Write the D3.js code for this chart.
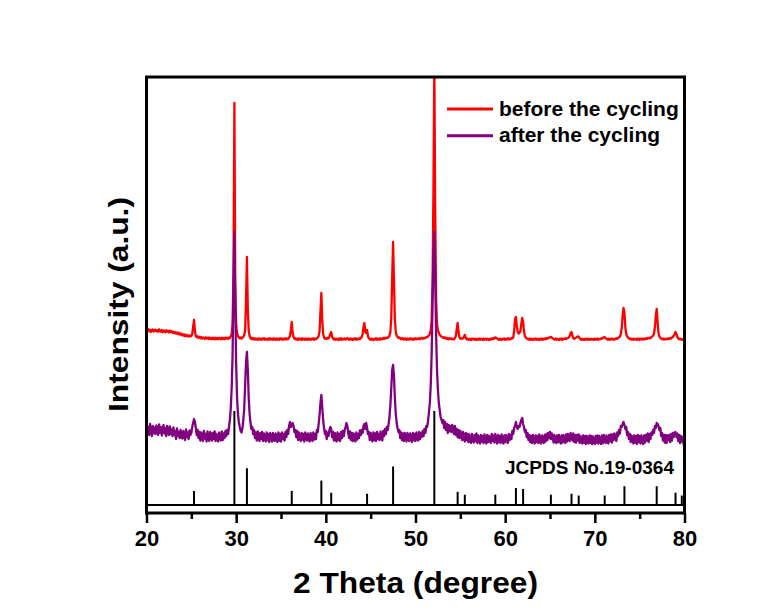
<!DOCTYPE html>
<html>
<head>
<meta charset="utf-8">
<script src="https://cdn.jsdelivr.net/npm/d3@7"></script>
<style>
  body { margin: 0; background: #ffffff; }
  text { font-family: "Liberation Sans", Arial, Helvetica, sans-serif; font-weight: bold; fill: #000; }
</style>
</head>
<body>
<svg id="chart" width="781" height="610"></svg>
<script>
// Scan settings: 2θ from 20° in steps of 0.1°; each row holds one degree (x.0 … x.9)
const scanStart = 20;
const scanStep = 0.1;

// Intensity (a.u.) before cycling
const beforeRows = [
  [120,105,128,110,122,100,118,126,104,115], // 20
  [124,108,118,102,126,112,104,120,98,116],  // 21
  [110,96,118,104,112,95,114,100,108,92],    // 22
  [104,90,98,84,96,80,92,74,86,70],          // 23
  [80,64,76,58,72,60,68,54,66,56],           // 24
  [60,80,150,220,110,60,48,58,42,52],        // 25
  [38,50,34,46,40,30,48,36,44,30],           // 26
  [46,32,40,28,44,34,26,42,30,40],           // 27
  [28,42,34,26,44,30,40,28,46,34],           // 28
  [40,30,46,40,55,80,180,700,2390,600],      // 29
  [180,90,60,48,36,46,34,44,50,70],          // 30
  [120,420,850,320,110,60,40,30,42,26],      // 31
  [38,24,36,28,20,38,26,34,22,36],           // 32
  [26,38,22,34,28,20,36,26,38,24],           // 33
  [34,22,38,28,20,36,24,34,22,38],           // 34
  [26,36,22,34,28,38,24,36,30,44],           // 35
  [60,120,200,90,48,32,38,24,34,22],         // 36
  [36,26,34,20,38,28,22,36,24,34],           // 37
  [22,36,28,20,34,26,38,22,34,28],           // 38
  [36,44,60,110,300,490,220,80,46,32],       // 39
  [38,30,42,36,55,80,100,55,34,24],          // 40
  [36,22,34,26,20,36,24,38,22,32],           // 41
  [26,36,24,32,40,30,22,36,24,34],           // 42
  [20,34,26,38,22,34,28,36,30,42],           // 43
  [48,80,150,190,100,90,120,60,36,28],       // 44
  [22,36,26,20,34,24,38,22,34,26],           // 45
  [38,24,34,28,40,30,42,36,44,40],           // 46
  [50,62,100,250,650,1000,600,220,100,64],   // 47
  [52,40,46,34,28,40,30,24,38,28],           // 48
  [22,36,28,24,38,26,32,22,36,28],           // 49
  [38,26,34,30,40,28,36,42,32,40],           // 50
  [36,46,44,52,56,66,80,120,220,600],        // 51
  [1500,2800,1300,420,180,120,90,72,62,54],  // 52
  [50,42,48,36,44,32,40,28,38,30],           // 53
  [36,26,34,28,40,60,130,190,100,48],        // 54
  [34,30,38,36,52,70,44,28,34,22],           // 55
  [34,24,20,36,26,32,22,34,20,30],           // 56
  [24,36,22,34,26,20,36,24,32,22],           // 57
  [34,26,20,32,24,36,28,40,34,46],           // 58
  [42,36,28,22,34,24,20,34,26,36],           // 59
  [22,34,26,38,24,34,28,40,36,46],           // 60
  [110,230,250,160,100,85,92,110,180,240],   // 61
  [200,110,60,44,36,30,24,36,22,34],         // 62
  [24,20,34,26,36,22,32,26,20,34],           // 63
  [24,36,22,32,26,38,30,40,36,44],           // 64
  [48,52,44,36,30,24,36,22,34,26],           // 65
  [20,34,24,36,22,32,28,38,30,36],           // 66
  [40,46,62,90,100,60,38,30,38,44],          // 67
  [50,56,54,38,28,22,34,24,20,32],           // 68
  [24,34,20,32,26,22,34,24,30,20],           // 69
  [34,26,22,36,24,32,28,38,34,42],           // 70
  [46,48,40,30,24,34,22,32,24,36],           // 71
  [26,22,34,28,38,32,40,46,56,80],           // 72
  [140,260,340,300,150,80,56,44,36,28],      // 73
  [36,24,32,22,34,28,20,34,24,36],           // 74
  [22,32,26,36,24,34,28,38,30,40],           // 75
  [36,44,38,48,56,62,80,150,260,330],        // 76
  [200,90,56,42,34,28,36,24,32,26],          // 77
  [34,28,36,30,40,34,46,50,62,80],           // 78
  [100,80,52,36,28,34,24,30,22,28],          // 79
  [20]                                       // 80
];

// Intensity (a.u.) after cycling
const afterRows = [
  [250,170,230,150,260,190,140,240,170,225], // 20
  [160,245,185,150,255,175,230,145,210,250], // 21
  [165,220,140,240,180,150,235,160,205,140], // 22
  [225,150,190,110,215,140,180,120,200,135], // 23
  [115,190,150,100,205,130,175,110,195,150], // 24
  [170,230,270,310,280,220,150,200,120,180], // 25
  [95,175,130,90,190,115,160,85,185,125],    // 26
  [90,180,140,95,170,110,185,90,160,120],    // 27
  [85,175,130,95,185,100,165,120,190,140],   // 28
  [200,160,230,300,420,620,950,1650,2180,1450], // 29
  [850,520,360,280,230,190,175,220,300,420], // 30
  [650,880,980,800,520,360,270,210,230,160], // 31
  [200,120,175,95,185,130,90,170,110,180],   // 32
  [90,165,120,85,175,100,160,80,170,130],    // 33
  [85,170,110,90,165,125,80,175,95,160],     // 34
  [85,175,110,160,95,180,130,200,160,240],   // 35
  [280,230,250,270,240,180,200,130,190,100], // 36
  [175,120,90,170,105,160,85,175,130,95],    // 37
  [165,110,85,170,120,90,175,105,160,110],   // 38
  [200,180,260,350,470,550,430,300,220,160], // 39
  [190,110,175,140,200,230,210,130,180,95],  // 40
  [170,110,85,175,100,160,90,180,120,190],   // 41
  [140,200,230,270,240,170,120,185,100,170], // 42
  [90,165,115,85,175,105,160,120,195,150],   // 43
  [200,170,240,260,210,270,220,160,180,100], // 44
  [170,115,85,175,100,165,90,180,110,160],   // 45
  [100,185,130,95,190,140,210,160,230,200],  // 46
  [260,330,450,620,800,850,740,520,360,270], // 47
  [220,180,200,120,175,100,165,90,170,125],  // 48
  [85,170,110,90,165,120,80,170,100,160],    // 49
  [90,175,120,95,180,110,170,130,190,140],   // 50
  [210,170,240,230,290,380,470,650,950,1450], // 51
  [1950,2180,1700,1150,800,600,470,400,330,300], // 52
  [270,300,220,280,200,260,170,250,190,240], // 53
  [180,250,200,160,240,150,210,130,200,120], // 54
  [190,140,100,180,120,85,170,100,160,80],   // 55
  [155,95,70,160,110,75,150,90,165,70],      // 56
  [145,100,65,150,85,140,70,155,95,65],      // 57
  [150,80,140,105,70,160,90,145,75,160],     // 58
  [95,65,150,80,140,70,155,100,65,145],      // 59
  [80,150,95,70,160,100,150,110,190,160],    // 60
  [220,240,280,230,210,240,230,270,300,320], // 61
  [260,230,180,200,130,170,100,150,80,140],  // 62
  [70,150,95,65,145,80,140,70,155,90],       // 63
  [65,145,100,70,150,85,160,100,170,120],    // 64
  [180,110,165,130,75,150,95,70,145,80],     // 65
  [150,90,65,145,75,150,100,70,155,85],      // 66
  [160,110,90,170,140,95,165,80,150,75],     // 67
  [150,95,155,70,140,85,65,145,75,140],      // 68
  [60,140,90,65,145,75,140,60,135,85],       // 69
  [60,140,75,145,65,140,95,60,145,70],       // 70
  [150,100,70,145,80,65,150,90,155,75],      // 71
  [155,100,165,130,90,175,140,200,165,240],  // 72
  [230,260,280,250,210,230,150,180,110,160], // 73
  [80,145,95,65,145,75,140,60,150,80],       // 74
  [140,65,145,90,60,145,75,150,95,165],      // 75
  [80,160,110,175,150,200,170,240,220,270],  // 76
  [260,240,200,220,140,170,95,150,75,150],   // 77
  [70,145,100,150,80,160,95,170,130,175],    // 78
  [180,130,165,90,150,70,140,85,130,60],     // 79
  [120]                                      // 80
];

// Standard pattern JCPDS No.19-0364: peak positions (2θ) and relative intensities (%)
const refAngle     = [25.3, 29.8, 31.2, 36.2, 39.5, 40.6, 44.6, 47.5, 52.1, 54.7, 55.5, 58.9, 61.2, 62.0, 65.1, 67.4, 68.2, 71.1, 73.3, 76.9, 79.0, 79.7];
const refIntensity = [15,   100,  39,   15,   26,   13,   12,   41,   100,  14,   11,   11,   18,   17,   11,   12,   10,   10,   20,   20,   13,   10];

const xTicks = [20, 30, 40, 50, 60, 70, 80];
const xMinorTicks = [25, 35, 45, 55, 65, 75];
const seriesLabels = ["before the cycling", "after the cycling"];
const refLabel = "JCPDS No.19-0364";

// rows -> [2θ, intensity] pairs
const toPoints = rows => rows.flatMap((row, i) =>
  row.map((v, j) => [+(scanStart + i + j * scanStep).toFixed(1), v]));
const beforeCycling = toPoints(beforeRows);
const afterCycling = toPoints(afterRows);

// ---- layout ----
const frame = { left: 146.5, right: 684.5, top: 77, bottom: 513 };
const colors = { before: "#ff0000", after: "#800080" };
const offsets = { before: 1710, after: 630 };   // vertical stacking of the two patterns

const svg = d3.select("#chart");
svg.append("rect").attr("width", 781).attr("height", 610).attr("fill", "#ffffff");

const x = d3.scaleLinear().domain([20, 80]).range([frame.left, frame.right]);
const y = d3.scaleLinear().domain([0, 4360]).range([frame.bottom, frame.top]);
const yRef = d3.scaleLinear().domain([0, 100]).range([505, 411]);

svg.append("defs").append("clipPath").attr("id", "plotArea")
  .append("rect")
  .attr("x", frame.left).attr("y", frame.top)
  .attr("width", frame.right - frame.left).attr("height", frame.bottom - frame.top);

const plot = svg.append("g").attr("clip-path", "url(#plotArea)");

const lineFor = off => d3.line().x(d => x(d[0])).y(d => y(d[1] + off));

plot.append("path").datum(beforeCycling)
  .attr("d", lineFor(offsets.before))
  .attr("fill", "none").attr("stroke", colors.before)
  .attr("stroke-width", 2.3).attr("stroke-linejoin", "round");

plot.append("path").datum(afterCycling)
  .attr("d", lineFor(offsets.after))
  .attr("fill", "none").attr("stroke", colors.after)
  .attr("stroke-width", 2.3).attr("stroke-linejoin", "round");

// reference stick pattern
plot.append("line")
  .attr("x1", frame.left).attr("x2", frame.right)
  .attr("y1", yRef(0)).attr("y2", yRef(0))
  .attr("stroke", "#000").attr("stroke-width", 2);

plot.selectAll("line.stick").data(refAngle).join("line")
  .attr("class", "stick")
  .attr("x1", d => x(d)).attr("x2", d => x(d))
  .attr("y1", yRef(0)).attr("y2", (d, i) => yRef(refIntensity[i]))
  .attr("stroke", "#000").attr("stroke-width", 2);

svg.append("text")
  .attr("x", 505).attr("y", 474)
  .style("font-size", "19px")
  .text(refLabel);

// bottom axis: major and minor ticks
const axisMajor = svg.append("g")
  .attr("transform", `translate(0,${frame.bottom})`)
  .call(d3.axisBottom(x).tickValues(xTicks).tickSize(10).tickSizeOuter(0).tickPadding(7.5).tickFormat(d3.format("d")));
axisMajor.select(".domain").remove();
axisMajor.selectAll(".tick line").attr("stroke", "#000").attr("stroke-width", 2.5);
axisMajor.selectAll(".tick text")
  .style("font-family", "'Liberation Sans', Arial, sans-serif")
  .style("font-weight", "bold").style("font-size", "22px").attr("fill", "#000");

const axisMinor = svg.append("g")
  .attr("transform", `translate(0,${frame.bottom})`)
  .call(d3.axisBottom(x).tickValues(xMinorTicks).tickSize(6).tickSizeOuter(0).tickFormat(""));
axisMinor.select(".domain").remove();
axisMinor.selectAll(".tick line").attr("stroke", "#000").attr("stroke-width", 2.5);

// plot frame
svg.append("rect")
  .attr("x", frame.left).attr("y", frame.top)
  .attr("width", frame.right - frame.left).attr("height", frame.bottom - frame.top)
  .attr("fill", "none").attr("stroke", "#000").attr("stroke-width", 3);

// axis titles
svg.append("text")
  .attr("x", 415.5).attr("y", 593)
  .attr("text-anchor", "middle")
  .attr("textLength", 245).attr("lengthAdjust", "spacingAndGlyphs")
  .style("font-size", "29px")
  .text("2 Theta (degree)");

svg.append("text")
  .attr("transform", "translate(128,304.5) rotate(-90)")
  .attr("text-anchor", "middle")
  .attr("textLength", 215).attr("lengthAdjust", "spacingAndGlyphs")
  .style("font-size", "27px")
  .text("Intensity (a.u.)");

// legend
const legend = svg.append("g");
[colors.before, colors.after].forEach((c, i) => {
  const ly = 109 + i * 26.7;
  legend.append("line")
    .attr("x1", 447).attr("x2", 493).attr("y1", ly).attr("y2", ly)
    .attr("stroke", c).attr("stroke-width", 3);
  legend.append("text")
    .attr("x", 499).attr("y", ly + 6.5)
    .style("font-size", "21px")
    .text(seriesLabels[i]);
});
</script>
</body>
</html>
